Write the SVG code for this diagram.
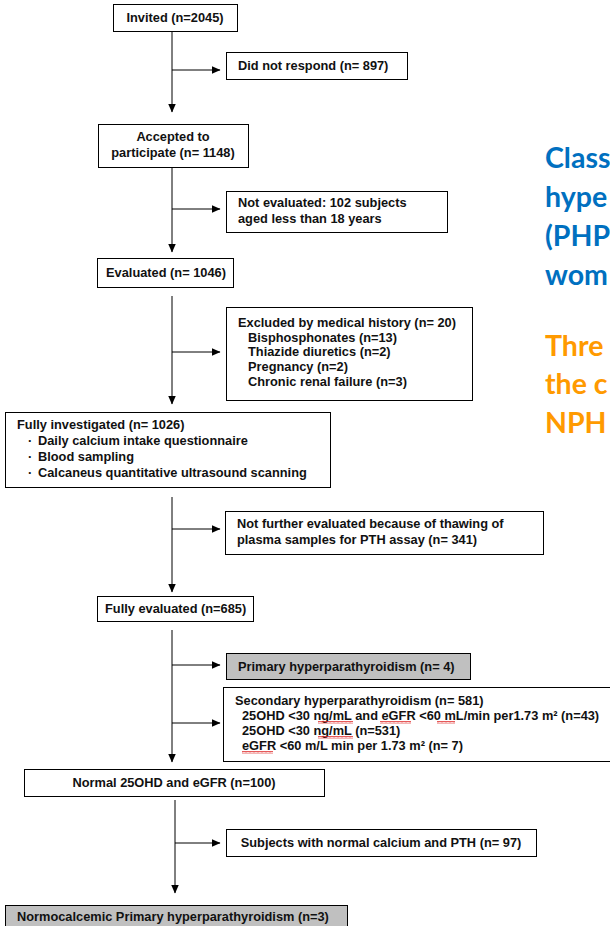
<svg xmlns="http://www.w3.org/2000/svg" width="610" height="926" viewBox="0 0 610 926">
<style>
.box{fill:#fff;stroke:#000;stroke-width:1}
.grey{fill:#c0c0c0;stroke:#000;stroke-width:1}
.t{font-family:"Liberation Sans",Arial,sans-serif;font-weight:bold;font-size:12.8px;fill:#111}
.c{text-anchor:middle}
.ln{stroke:#000;stroke-width:1;fill:none}
.side{font-family:Lato,"Open Sans",sans-serif;font-weight:bold;font-size:28.5px}
.blue{fill:#0070c0}
.orange{fill:#ff9a00}
.sq{fill:url(#squig)}
</style>
<defs>
<marker id="ah" markerWidth="9" markerHeight="9" refX="8.5" refY="4.5" orient="auto" markerUnits="userSpaceOnUse">
<path d="M0,0.5 L9,4.5 L0,8.5 Z" fill="#000"/>
</marker>
<pattern id="squig" width="4" height="3" patternUnits="userSpaceOnUse">
<path d="M0,2.5 L1,0.5 L2,2.5 L3,0.5 L4,2.5" stroke="#e03030" stroke-width="0.8" fill="none"/>
</pattern>
</defs>
<rect width="610" height="926" fill="#fff"/>

<g id="connectors">
<line class="ln" x1="172" y1="31" x2="172" y2="112" marker-end="url(#ah)"/>
<line class="ln" x1="172" y1="70" x2="220" y2="70" marker-end="url(#ah)"/>
<line class="ln" x1="172" y1="167" x2="172" y2="252" marker-end="url(#ah)"/>
<line class="ln" x1="172" y1="209" x2="220" y2="209" marker-end="url(#ah)"/>
<line class="ln" x1="172" y1="296" x2="172" y2="404" marker-end="url(#ah)"/>
<line class="ln" x1="172" y1="352" x2="220" y2="352" marker-end="url(#ah)"/>
<line class="ln" x1="172" y1="497" x2="172" y2="592" marker-end="url(#ah)"/>
<line class="ln" x1="172" y1="529" x2="220" y2="529" marker-end="url(#ah)"/>
<line class="ln" x1="172" y1="630" x2="172" y2="762" marker-end="url(#ah)"/>
<line class="ln" x1="172" y1="665" x2="220" y2="665" marker-end="url(#ah)"/>
<line class="ln" x1="172" y1="723" x2="220" y2="723" marker-end="url(#ah)"/>
<line class="ln" x1="175" y1="800" x2="175" y2="893" marker-end="url(#ah)"/>
<line class="ln" x1="175" y1="843" x2="220" y2="843" marker-end="url(#ah)"/>
</g>

<g id="invited">
<rect class="box" x="113.5" y="4.5" width="124" height="27"/>
<text class="t c" x="175" y="22">Invited (n=2045)</text>
</g>
<g id="no-response">
<rect class="box" x="226.5" y="52.5" width="181" height="27"/>
<text class="t" x="238" y="70">Did not respond (n= 897)</text>
</g>
<g id="accepted">
<rect class="box" x="98.5" y="124.5" width="150" height="43"/>
<text class="t c" x="173" y="141">Accepted to</text>
<text class="t c" x="173" y="157">participate (n= 1148)</text>
</g>
<g id="not-evaluated">
<rect class="box" x="226.5" y="191.5" width="221" height="41"/>
<text class="t" x="238" y="207">Not evaluated: 102 subjects</text>
<text class="t" x="238" y="223">aged less than 18 years</text>
</g>
<g id="evaluated">
<rect class="box" x="97.5" y="258.5" width="136" height="29"/>
<text class="t c" x="166" y="277">Evaluated (n= 1046)</text>
</g>
<g id="excluded">
<rect class="box" x="226.5" y="307.5" width="246" height="93"/>
<text class="t" x="238" y="327">Excluded by medical history (n= 20)</text>
<text class="t" x="248" y="342">Bisphosphonates (n=13)</text>
<text class="t" x="248" y="356">Thiazide diuretics (n=2)</text>
<text class="t" x="248" y="371">Pregnancy (n=2)</text>
<text class="t" x="248" y="386">Chronic renal failure (n=3)</text>
</g>
<g id="fully-investigated">
<rect class="box" x="5.5" y="412.5" width="325" height="75"/>
<text class="t" x="17" y="429">Fully investigated (n= 1026)</text>
<text class="t" x="28" y="445">·</text><text class="t" x="38" y="445">Daily calcium intake questionnaire</text>
<text class="t" x="28" y="461">·</text><text class="t" x="38" y="461">Blood sampling</text>
<text class="t" x="28" y="477">·</text><text class="t" x="38" y="477">Calcaneus quantitative ultrasound scanning</text>
</g>
<g id="not-further">
<rect class="box" x="225.5" y="511.5" width="318" height="43"/>
<text class="t" x="237" y="528">Not further evaluated because of thawing of</text>
<text class="t" x="237" y="544">plasma samples for PTH assay (n= 341)</text>
</g>
<g id="fully-evaluated">
<rect class="box" x="97.5" y="596.5" width="156" height="25"/>
<text class="t" x="105" y="613">Fully evaluated (n=685)</text>
</g>
<g id="primary">
<rect class="grey" x="226.5" y="653.5" width="244" height="26"/>
<text class="t" x="238" y="671">Primary hyperparathyroidism (n= 4)</text>
</g>
<g id="secondary">
<rect class="box" x="223.5" y="687.5" width="400" height="74"/>
<text class="t" x="235" y="705">Secondary hyperparathyroidism (n= 581)</text>
<text class="t" x="242" y="720">25OHD &lt;30 ng/mL and eGFR &lt;60 mL/min per1.73 m² (n=43)</text>
<text class="t" x="242" y="735">25OHD &lt;30 ng/mL (n=531)</text>
<text class="t" x="242" y="750">eGFR &lt;60 m/L min per 1.73 m² (n= 7)</text>
<rect class="sq" x="318" y="721" width="35" height="3"/>
<rect class="sq" x="380" y="721" width="31" height="3"/>
<rect class="sq" x="437" y="721" width="18" height="3"/>
<rect class="sq" x="318" y="736" width="35" height="3"/>
<rect class="sq" x="242" y="751" width="31" height="3"/>
</g>
<g id="normal">
<rect class="box" x="24.5" y="769.5" width="300" height="27"/>
<text class="t c" x="174" y="787">Normal 25OHD and eGFR (n=100)</text>
</g>
<g id="subjects-normal">
<rect class="box" x="226.5" y="829.5" width="310" height="27"/>
<text class="t c" x="381" y="847">Subjects with normal calcium and PTH (n= 97)</text>
</g>
<g id="npht">
<rect class="grey" x="5.5" y="905.5" width="342" height="24"/>
<text class="t" x="17" y="921">Normocalcemic Primary hyperparathyroidism (n=3)</text>
</g>

<g id="side-text">
<text class="side blue" x="545" y="168">Class</text>
<text class="side blue" x="545" y="207">hype</text>
<text class="side blue" x="545" y="246">(PHP</text>
<text class="side blue" x="545" y="285">wom</text>
<text class="side orange" x="545" y="356">Thre</text>
<text class="side orange" x="545" y="394">the c</text>
<text class="side orange" x="545" y="433">NPH</text>
</g>
</svg>
